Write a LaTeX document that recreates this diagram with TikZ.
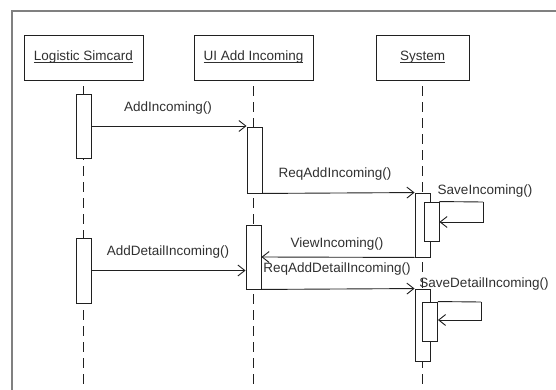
\documentclass[tikz,border=0pt]{standalone}
\usepackage{fontspec}
\setmainfont{Liberation Sans}
\usetikzlibrary{arrows.meta}
\definecolor{ink}{HTML}{202020}
\definecolor{txt}{HTML}{303030}
\definecolor{frm}{HTML}{808080}
\newcommand\myul[1]{\setbox0\hbox{#1}\leavevmode\rlap{\raisebox{-2.4pt}{\textcolor{txt}{\rule{\wd0}{0.9pt}}}}\box0}
\tikzset{
  obj/.style={draw=ink, line width=0.9pt, fill=white, inner sep=0pt, font=\fontsize{13.5}{16}\selectfont, text=txt},
  act/.style={draw=ink, line width=0.9pt, fill=white, inner sep=0pt, minimum width=15pt},
  life/.style={draw=ink, line width=1pt, dash pattern=on 10pt off 6pt, dash phase=10pt},
  msg/.style={draw=ink, line width=0.9pt, -{Straight Barb[length=7pt,width=11pt,line width=0.9pt]}},
  lbl/.style={inner sep=0pt, font=\fontsize{13.5}{16}\selectfont, text=txt},
  frame/.style={draw=frm, line width=2pt}
}
\begin{document}
\begin{tikzpicture}[x=1pt,y=-1pt]
\useasboundingbox (0,0) rectangle (556,390);
% frame
\coordinate (fa) at (556,11);
\coordinate (fb) at (12,11);
\coordinate (fc) at (12,391);
\draw[frame] (fa) -- (fb) -- (fc);
% objects
\node[obj, minimum width=119pt, minimum height=45pt] (ls) at (83.5,57.5) {\myul{Logistic Simcard}};
\node[obj, minimum width=119pt, minimum height=45pt] (ui) at (253.5,57.5) {\myul{UI Add Incoming}};
\node[obj, minimum width=93pt, minimum height=45pt] (sy) at (422.5,57.5) {\myul{System}};
% lifelines
\coordinate (lsend) at (83.5,392);
\coordinate (uiend) at (253.5,392);
\coordinate (syend) at (422.5,392);
\draw[life] (ls.south) -- (lsend);
\draw[life] (ui.south) -- (uiend);
\draw[life] (sy.south) -- (syend);
% activations
\node[act, minimum height=64pt] (l1) at (83.5,126) {};
\node[act, minimum height=66pt] (u1) at (254.5,160) {};
\node[act, minimum height=64pt] (s1) at (422.5,225) {};
\node[act, minimum height=39pt] (s1n) at (431.5,221.5) {};
\node[act, minimum height=64pt] (u2) at (253.5,257) {};
\node[act, minimum height=65pt] (l2) at (83.5,270.5) {};
\node[act, minimum height=72pt] (s2) at (422.5,325) {};
\node[act, minimum height=39pt] (s2n) at (430,321.5) {};
% messages
\draw[msg] (l1.east) -- (u1.west |- l1.east);
\node[lbl] (t1) at (168,108) {AddIncoming()};
\draw[msg] (u1.south east) -- (s1.north west);
\node[lbl] (t2) at (335,174) {ReqAddIncoming()};
\coordinate (a1) at (483,202);
\coordinate (a2) at (483,222);
\draw[ink, line width=0.9pt] (s1n.north east) -- (a1);
\draw[msg] (a1) -- (a2) -- (s1n.east |- a2);
\node[lbl] (t3) at (485,191) {SaveIncoming()};
\draw[msg] (s1.south west) -- (u2.east);
\node[lbl] (t4) at (337,244) {ViewIncoming()};
\draw[msg] (l2.east) -- (u2.west |- l2.east);
\node[lbl] (t5) at (168,252) {AddDetailIncoming()};
\draw[msg] (u2.south east) -- (s2.north west);
\node[lbl] (t6) at (337,269) {ReqAddDetailIncoming()};
\coordinate (b1) at (481,302);
\coordinate (b2) at (481,320);
\draw[ink, line width=0.9pt] (s2n.north east) -- (b1);
\draw[msg] (b1) -- (b2) -- (s2n.east |- b2);
\node[lbl] (t7) at (484,284) {SaveDetailIncoming()};
\end{tikzpicture}
\end{document}
